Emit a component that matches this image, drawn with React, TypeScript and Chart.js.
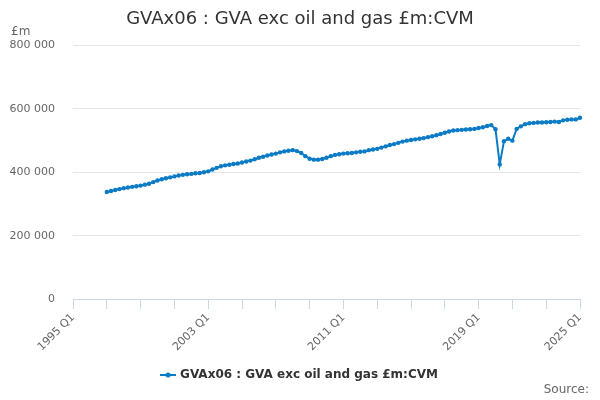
import React, { useEffect, useRef } from 'react';
import { Chart, registerables } from 'chart.js';

Chart.register(...registerables);

// quarters shown on the x axis: 1995 Q1 .. 2025 Q1
const firstYear = 1995;
const lastYear = 2025;
const quarterLabels: string[] = [];
for (let y = firstYear; y <= lastYear; y++) {
    for (let q = 1; q <= 4; q++) {
        if (y === lastYear && q > 1) break;
        quarterLabels.push(`${y} Q${q}`);
    }
}

// series starts in 1997 Q1
const seriesStart = '1997 Q1';

// GVAx06 : GVA exc oil and gas £m:CVM, 1997 Q1 .. 2025 Q1
const gvaValues = [
    338000, 341000, 344000, 347000, // 1997
    350000, 352000, 354000, 356000, // 1998
    358000, 361000, 364000, 369000, // 1999
    374000, 378000, 381000, 384000, // 2000
    387000, 390000, 392000, 394000, // 2001
    395000, 397000, 398000, 400000, // 2002
    403000, 409000, 414000, 419000, // 2003
    422000, 424000, 426000, 428000, // 2004
    431000, 434000, 437000, 441000, // 2005
    446000, 449000, 453000, 456000, // 2006
    459000, 463000, 466000, 468000, // 2007
    470000, 467000, 461000, 451000, // 2008
    443000, 440000, 440000, 442000, // 2009
    446000, 451000, 455000, 457000, // 2010
    459000, 460000, 461000, 463000, // 2011
    465000, 466000, 470000, 472000, // 2012
    474000, 478000, 482000, 486000, // 2013
    489000, 493000, 497000, 500000, // 2014
    502000, 504000, 506000, 508000, // 2015
    511000, 514000, 517000, 521000, // 2016
    525000, 529000, 532000, 533000, // 2017
    534000, 535000, 536000, 537000, // 2018
    540000, 542000, 546000, 549000, // 2019
    536000, 425000, 498000, 506000, // 2020
    500000, 537000, 545000, 552000, // 2021
    555000, 556000, 557000, 557000, // 2022
    558000, 559000, 560000, 559000, // 2023
    564000, 566000, 567000, 567000, // 2024
    572000, // 2025
];

const labelledQuarters = ['1995 Q1', '2003 Q1', '2011 Q1', '2019 Q1', '2025 Q1'];
const yTicks = [0, 200000, 400000, 600000, 800000];

const seriesName = 'GVAx06 : GVA exc oil and gas £m:CVM';
const lineColor = '#0a7bc4';

function fmt(v: number) {
    return String(v).replace(/\B(?=(\d{3})+(?!\d))/g, ' ');
}

function legendSymbol() {
    const c = document.createElement('canvas');
    c.width = 16;
    c.height = 8;
    const g = c.getContext('2d');
    if (g) {
        g.strokeStyle = lineColor;
        g.lineWidth = 2;
        g.beginPath();
        g.moveTo(0, 4);
        g.lineTo(16, 4);
        g.stroke();
        g.fillStyle = lineColor;
        g.beginPath();
        g.arc(8, 4, 2.5, 0, Math.PI * 2);
        g.fill();
    }
    return c;
}

const extraText = {
    id: 'extraText',
    afterDraw(chart: Chart) {
        const ctx = chart.ctx;
        ctx.save();
        ctx.fillStyle = '#666666';
        ctx.font = '12px "DejaVu Sans", sans-serif';
        ctx.textBaseline = 'middle';
        ctx.textAlign = 'left';
        ctx.fillText('£m', 11, 32);
        ctx.textAlign = 'right';
        ctx.fillText('Source:', 589, 390);
        ctx.restore();
    },
};

function GvaChart() {
    const chartRef = useRef<HTMLCanvasElement | null>(null);
    const chartInstance = useRef<Chart | null>(null);

    useEffect(() => {
        document.body.style.margin = '0';
        if (chartRef.current) {
            if (chartInstance.current) {
                chartInstance.current.destroy();
            }
            const startIdx = quarterLabels.indexOf(seriesStart);
            const data: (number | null)[] = quarterLabels.map((_, i) =>
                i >= startIdx && i - startIdx < gvaValues.length ? gvaValues[i - startIdx] : null
            );

            const ctx = chartRef.current.getContext('2d');
            if (ctx) {
                chartInstance.current = new Chart(ctx, {
                    type: 'line',
                    data: {
                        labels: quarterLabels,
                        datasets: [{
                            label: seriesName,
                            data,
                            borderColor: lineColor,
                            backgroundColor: lineColor,
                            borderWidth: 2,
                            pointRadius: 2.2,
                            pointHoverRadius: 3,
                            pointBorderWidth: 0,
                            tension: 0,
                        }],
                    },
                    options: {
                        animation: false,
                        responsive: true,
                        maintainAspectRatio: false,
                        layout: { padding: { left: 10, right: 10, top: 9, bottom: 9 } },
                        font: { family: '"DejaVu Sans", sans-serif' },
                        scales: {
                            x: {
                                type: 'category',
                                offset: false,
                                grid: {
                                    drawOnChartArea: false,
                                    drawTicks: true,
                                    tickLength: 10,
                                    color: (c: any) => (c.index % 8 === 0 ? '#ccd6eb' : 'rgba(0,0,0,0)'),
                                },
                                border: { color: '#ccd6eb', width: 1 },
                                ticks: {
                                    autoSkip: false,
                                    minRotation: 45,
                                    maxRotation: 45,
                                    padding: 2,
                                    color: '#666666',
                                    font: { size: 11, family: '"DejaVu Sans", sans-serif' },
                                    callback: (_v: any, i: number) =>
                                        labelledQuarters.includes(quarterLabels[i]) ? quarterLabels[i] : '',
                                },
                                afterFit: (scale: any) => { scale.height = 60; },
                            },
                            y: {
                                min: 0,
                                max: 800000,
                                afterBuildTicks: (scale: any) => {
                                    scale.ticks = yTicks.map(v => ({ value: v }));
                                },
                                grid: { color: '#e6e6e6', drawTicks: false },
                                border: { display: false },
                                ticks: {
                                    padding: 18,
                                    color: '#666666',
                                    font: { size: 11, family: '"DejaVu Sans", sans-serif' },
                                    callback: (v: any) => fmt(Number(v)),
                                },
                                afterFit: (scale: any) => { scale.width = 63; },
                            },
                            // empty right-hand gutter so the legend stays centred on the page
                            yRight: {
                                position: 'right',
                                display: true,
                                grid: { display: false, drawTicks: false },
                                border: { display: false },
                                ticks: { display: false },
                                afterFit: (scale: any) => { scale.width = 10; },
                            },
                        },
                        plugins: {
                            title: {
                                display: true,
                                text: seriesName,
                                color: '#333333',
                                font: { size: 18, weight: 'normal', family: '"DejaVu Sans", sans-serif' },
                                padding: { top: 0, bottom: 15 },
                            },
                            legend: {
                                position: 'bottom',
                                labels: {
                                    usePointStyle: true,
                                    pointStyle: legendSymbol(),
                                    color: '#333333',
                                    font: { size: 12, weight: 'bold', family: '"DejaVu Sans", sans-serif' },
                                    padding: 10,
                                },
                            },
                            tooltip: { enabled: false },
                        },
                    },
                    plugins: [extraText],
                });
            }
        }

        return () => {
            if (chartInstance.current) {
                chartInstance.current.destroy();
                chartInstance.current = null;
            }
        };
    }, []);

    return (
        <div style={{ width: 600, height: 400, position: 'relative' }}>
            <canvas ref={chartRef} />
        </div>
    );
}

export default function App() {
    return <GvaChart />;
}
